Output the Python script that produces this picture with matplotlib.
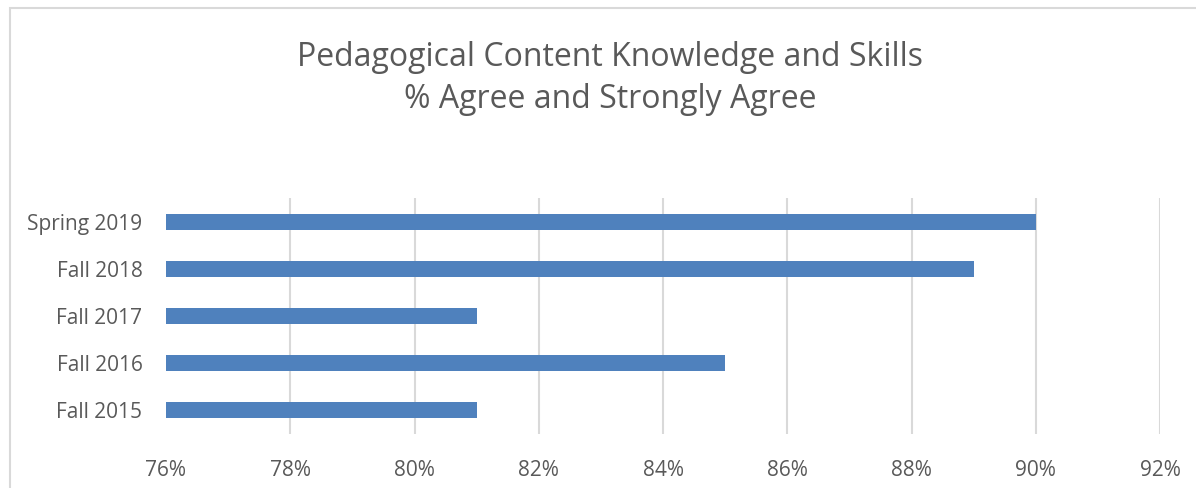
"""Horizontal bar chart: pedagogical content knowledge survey results."""
import matplotlib
matplotlib.use("Agg")
import matplotlib.pyplot as plt
from matplotlib.patches import Rectangle
from matplotlib.ticker import FuncFormatter

# data, bottom to top
terms = ["Fall 2015", "Fall 2016", "Fall 2017", "Fall 2018", "Spring 2019"]
pct_agree = [81, 85, 81, 89, 90]
x_ticks = [76, 78, 80, 82, 84, 86, 88, 90, 92]

BAR_COLOR = "#4f81bd"
TEXT_COLOR = "#595959"
GRID_COLOR = "#d9d9d9"

plt.rcParams["font.family"] = ["Open Sans", "DejaVu Sans"]

fig = plt.figure(figsize=(11.96, 4.88), dpi=100, facecolor="white")
W, H = 1196, 488

# outer chart frame (cut off at right and bottom like the source)
fig.patches.append(Rectangle((10 / W, -0.1), 1.2, 1 - 8 / H + 0.1,
                             transform=fig.transFigure, fill=False,
                             edgecolor=GRID_COLOR, linewidth=1.5))

ax = fig.add_axes([166 / W, 1 - 433.5 / H, (1160 - 166) / W, 235 / H])

ax.barh(range(len(terms)), pct_agree, height=0.36, color=BAR_COLOR,
        left=0, zorder=3)
ax.set_xlim(76, 92)
ax.set_ylim(-0.5, len(terms) - 0.5)
ax.set_xticks(x_ticks)
ax.xaxis.set_major_formatter(FuncFormatter(lambda v, _: f"{v:.0f}%"))
ax.set_yticks(range(len(terms)))
ax.set_yticklabels(terms)

ax.grid(axis="x", color=GRID_COLOR, linewidth=1.5, zorder=0)
ax.get_xgridlines()[0].set_visible(False)
for side in ["top", "right", "bottom", "left"]:
    ax.spines[side].set_visible(False)
ax.tick_params(axis="both", length=0, labelsize=15, colors=TEXT_COLOR)
ax.tick_params(axis="x", pad=19)
ax.tick_params(axis="y", pad=17)

fig.text(610 / W, 1 - 57 / H, "Pedagogical Content Knowledge and Skills",
         ha="center", va="center", fontsize=23, color=TEXT_COLOR)
fig.text(610 / W, 1 - 100 / H, "% Agree and Strongly Agree",
         ha="center", va="center", fontsize=23, color=TEXT_COLOR)

fig.savefig("out.png", dpi=100, facecolor="white")
plt.close(fig)
